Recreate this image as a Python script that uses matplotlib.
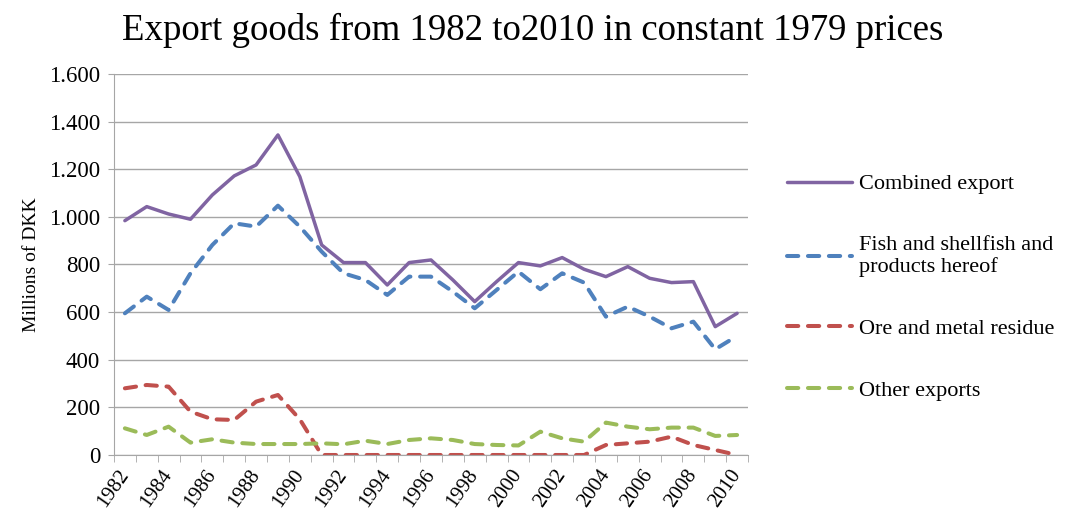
import matplotlib
matplotlib.use("Agg")
import matplotlib.pyplot as plt
from matplotlib.ticker import FuncFormatter, FixedLocator

# data (millions of DKK, constant 1979 prices)
years = list(range(1982, 2011))
combined = [984, 1043, 1012, 990, 1092, 1172, 1218, 1344, 1169, 882,
            808, 808, 714, 808, 819, 735, 644, 728, 808, 794,
            829, 780, 749, 791, 742, 724, 728, 539, 595]
fish = [595, 665, 609, 763, 882, 973, 959, 1047, 959, 854,
        763, 735, 672, 749, 749, 686, 616, 693, 770, 696,
        763, 724, 581, 623, 581, 532, 560, 444, 500]
ore = [280, 294, 287, 182, 150, 147, 224, 252, 150, 0,
       0, 0, 0, 0, 0, 0, 0, 0, 0, 0,
       0, 0, 42, 49, 56, 77, 42, 21, 0]
other = [112, 84, 119, 52, 66, 52, 46, 46, 46, 49,
         45, 60, 46, 63, 70, 63, 46, 42, 40, 98,
         70, 56, 136, 119, 108, 115, 115, 80, 84]

labels = ["Combined export", "Fish and shellfish and\nproducts hereof",
          "Ore and metal residue", "Other exports"]
colors = ["#8064A2", "#4F81BD", "#C0504D", "#9BBB59"]

plt.rcParams['font.family'] = ['Liberation Serif', 'DejaVu Serif']

fig = plt.figure(figsize=(10.74, 5.21), dpi=100)
ax = fig.add_axes([0.1061, 0.1267, 0.5904, 0.7313])

x = list(range(len(years)))
series = [combined, fish, ore, other]
for i, (vals, lab, col) in enumerate(zip(series, labels, colors)):
    if i == 0:
        ax.plot(x, vals, color=col, lw=2.5, label=lab, solid_capstyle='round')
    else:
        ax.plot(x, vals, color=col, lw=2.9, label=lab, dashes=(2.8, 2.4),
                dash_capstyle='round')

ax.set_xlim(-0.5, len(years) - 0.5)
ax.set_ylim(0, 1600)
ax.set_yticks(range(0, 1601, 200))
ax.yaxis.set_major_formatter(FuncFormatter(lambda v, p: f"{int(v):,}".replace(",", ".")))
ax.grid(axis='y', color='#a6a6a6', lw=1)
ax.set_axisbelow(True)

ax.set_xticks(x[::2])
ax.set_xticklabels([str(y) for y in years[::2]], rotation=55, ha='right',
                   va='center', rotation_mode='anchor', fontsize=15)
ax.xaxis.set_minor_locator(FixedLocator([i - 0.5 for i in range(len(years) + 1)]))
ax.tick_params(axis='x', which='major', length=0, pad=12)
ax.tick_params(axis='x', which='minor', length=5, color='#a6a6a6')
ax.tick_params(axis='y', length=4, color='#a6a6a6', labelsize=16.5, pad=6)

for s in ['top', 'right']:
    ax.spines[s].set_visible(False)
for s in ['left', 'bottom']:
    ax.spines[s].set_color('#a6a6a6')

ax.set_ylabel("Millions of DKK", fontsize=14, labelpad=6)
fig.suptitle("Export goods from 1982 to2010 in constant 1979 prices",
             fontsize=26.5, x=0.496, y=0.975)

ax.legend(loc='center left', bbox_to_anchor=(1.03, 0.44), frameon=False,
          fontsize=16, handlelength=2.9, handletextpad=0.35, labelspacing=1.85)

fig.savefig("out.png", dpi=100)
